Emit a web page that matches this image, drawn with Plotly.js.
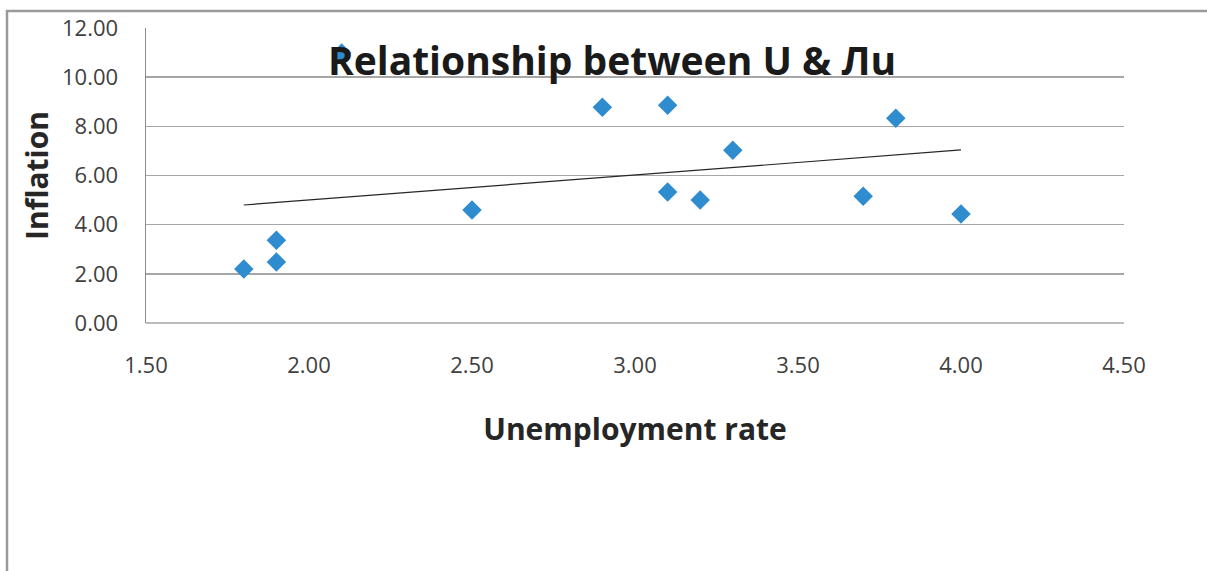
<!DOCTYPE html>
<html>
<head>
<meta charset="utf-8">
<script src="https://cdn.plot.ly/plotly-3.0.1.min.js"></script>
<style>
  html, body { margin: 0; padding: 0; background: #ffffff; }
  #chart { width: 1207px; height: 571px; }
</style>
</head>
<body>
<div id="chart"></div>
<script>
// Data
const unemployment = [1.80, 1.90, 1.90, 2.10, 2.50, 2.90, 3.10, 3.10, 3.20, 3.30, 3.70, 3.80, 4.00];
const inflation    = [2.20, 3.37, 2.48, 10.98, 4.60, 8.78, 8.86, 5.33, 5.00, 7.03, 5.16, 8.33, 4.43];
const xTickVals = [1.5, 2.0, 2.5, 3.0, 3.5, 4.0, 4.5];
const yTickVals = [0, 2, 4, 6, 8, 10, 12];
const chartTitle = "Relationship between U & \u041Bu";
const xTitle = "Unemployment rate";
const yTitle = "Inflation";

// Linear least-squares trendline computed from the data
const n = unemployment.length;
const mx = unemployment.reduce((a, b) => a + b, 0) / n;
const my = inflation.reduce((a, b) => a + b, 0) / n;
let sxy = 0, sxx = 0;
for (let i = 0; i < n; i++) {
  sxy += (unemployment[i] - mx) * (inflation[i] - my);
  sxx += (unemployment[i] - mx) ** 2;
}
const slope = sxy / sxx;
const intercept = my - slope * mx;
const xMin = Math.min(...unemployment), xMax = Math.max(...unemployment);
const trendX = [xMin, xMax];
const trendY = trendX.map(x => intercept + slope * x);

const font = '"Open Sans", "Liberation Sans", sans-serif';

const traces = [
  {
    x: trendX, y: trendY, type: 'scatter', mode: 'lines',
    line: { color: '#262626', width: 1.2 },
    hoverinfo: 'skip', showlegend: false
  },
  {
    x: unemployment, y: inflation, type: 'scatter', mode: 'markers',
    marker: { symbol: 'diamond', size: 15, color: '#2e8ccf', line: { width: 0 } },
    showlegend: false
  }
];

const layout = {
  width: 1207, height: 571,
  margin: { l: 146, r: 83, t: 28, b: 248 },
  paper_bgcolor: '#ffffff', plot_bgcolor: '#ffffff',
  font: { family: font, color: '#404040' },
  showlegend: false,
  title: {
    text: '<b>' + chartTitle + '</b>',
    font: { family: font, size: 39, color: '#1a1a1a' },
    x: 0.4765, xref: 'paper', xanchor: 'center',
    y: 1 - 61 / 571, yref: 'container', yanchor: 'middle'
  },
  xaxis: {
    range: [1.5, 4.5], tickvals: xTickVals, tickformat: '.2f',
    showgrid: false, zeroline: false, showline: false, ticks: '',
    ticklabelstandoff: 27,
    tickfont: { family: font, size: 22, color: '#404040' },
    title: { text: '<b>' + xTitle + '</b>', font: { family: font, size: 30, color: '#262626' }, standoff: 40 },
    fixedrange: true
  },
  yaxis: {
    range: [0, 12], tickvals: yTickVals, tickformat: '.2f',
    showgrid: true, gridcolor: '#a6a6a6', gridwidth: 1.5,
    zeroline: false, showline: true, linecolor: '#8c8c8c', linewidth: 1.5, ticks: '',
    ticklabelstandoff: 22,
    tickfont: { family: font, size: 22, color: '#404040' },
    title: { text: '<b>' + yTitle + '</b>', font: { family: font, size: 30, color: '#262626' }, standoff: 4 },
    fixedrange: true
  },
  shapes: [
    {
      type: 'line', xref: 'paper', yref: 'paper',
      x0: 0, x1: 1, y0: 0, y1: 0,
      line: { color: '#a6a6a6', width: 1.5 }, layer: 'below'
    },
    {
      type: 'rect', xref: 'paper', yref: 'paper',
      x0: (7 - 146) / 978, x1: 1.3, y0: -1.5, y1: (323 - 11) / 295,
      line: { color: '#9a9a9a', width: 2.5 }, fillcolor: 'rgba(0,0,0,0)', layer: 'below'
    }
  ]
};

Plotly.newPlot('chart', traces, layout, { displayModeBar: false, staticPlot: true });
</script>
</body>
</html>
